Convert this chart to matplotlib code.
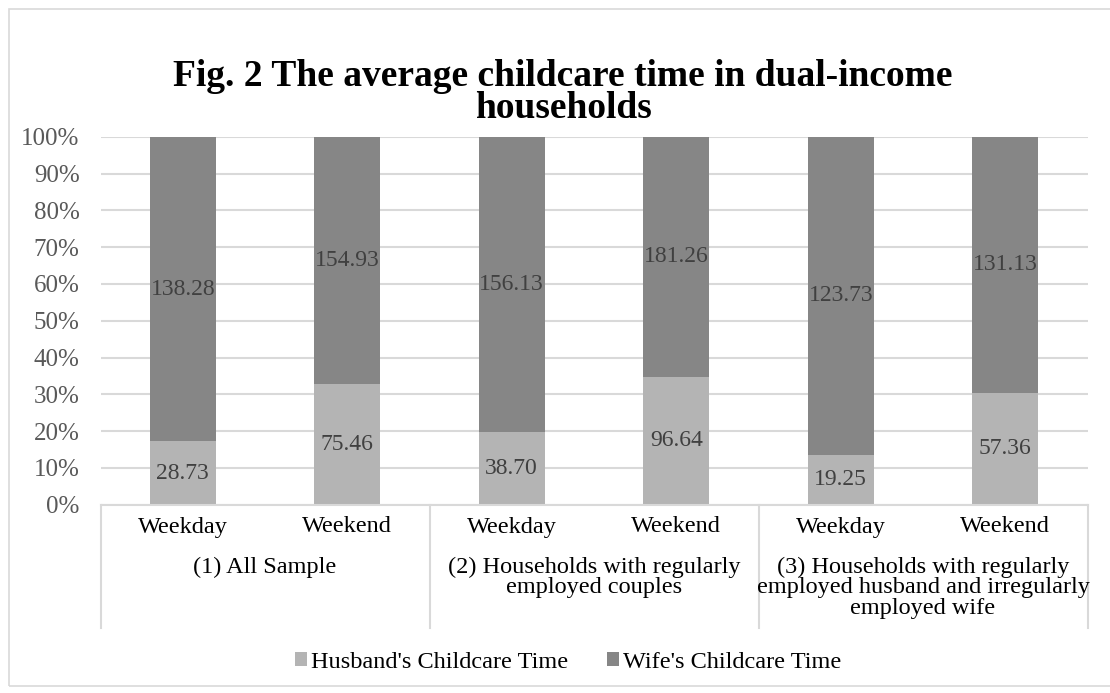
import matplotlib.pyplot as plt
import numpy as np

# Childcare minutes per day
groups = ["(1) All Sample",
          "(2) Households with regularly\nemployed couples",
          "(3) Households with regularly\nemployed husband and irregularly\nemployed wife"]
days = ["Weekday", "Weekend", "Weekday", "Weekend", "Weekday", "Weekend"]
husband = np.array([28.73, 75.46, 38.70, 96.64, 19.25, 57.36])
wife = np.array([138.28, 154.93, 156.13, 181.26, 123.73, 131.13])

husband_col = "#b4b4b4"
wife_col = "#868686"
grid_col = "#d9d9d9"

plt.rcParams["font.family"] = ["Liberation Serif", "DejaVu Serif"]

W, H = 1110, 693
fig = plt.figure(figsize=(W / 100, H / 100), dpi=100)

# outer chart border (right side runs off the image)
fig.patches.append(plt.Rectangle((8.5 / W, 1 - 685.5 / H), (1120 - 8.5) / W, (685.5 - 9) / H,
                                 transform=fig.transFigure, fill=False,
                                 edgecolor=grid_col, linewidth=1.2))

left, right, top, bottom = 100.5, 1087.5, 136.7, 504.7
ax = fig.add_axes([left / W, 1 - bottom / H, (right - left) / W, (bottom - top) / H])

total = husband + wife
h_share = husband / total * 100
w_share = wife / total * 100
x = np.arange(len(days))

ax.bar(x, h_share, width=0.4, color=husband_col, label="Husband's Childcare Time", zorder=2)
ax.bar(x, w_share, width=0.4, bottom=h_share, color=wife_col, label="Wife's Childcare Time", zorder=2)

for i in range(len(x)):
    ax.text(x[i], h_share[i] / 2, "%.2f" % husband[i], ha="center", va="center",
            fontsize=17, color="#404040", zorder=3)
    ax.text(x[i], h_share[i] + w_share[i] / 2, "%.2f" % wife[i], ha="center", va="center",
            fontsize=17, color="#404040", zorder=3)

ax.set_xlim(-0.5, len(x) - 0.5)
ax.set_ylim(0, 100)
ax.set_yticks(np.arange(0, 101, 10))
ax.set_yticklabels(["%d%%" % v for v in range(0, 101, 10)], fontsize=18, color="#595959")
ax.tick_params(axis="y", length=0, pad=15)
ax.set_xticks([])
ax.yaxis.grid(True, color=grid_col, linewidth=1.5, zorder=0)
for s in ["top", "right", "left"]:
    ax.spines[s].set_visible(False)
ax.spines["bottom"].set_color(grid_col)
ax.spines["bottom"].set_linewidth(1.5)

# two-level category axis drawn below the plot
px = (bottom - top) / 100.0  # pixels per percent
line_end = -(628 - bottom) / px
for b in [-0.5, 1.5, 3.5, 5.5]:
    ax.plot([b, b], [0, line_end], color=grid_col, linewidth=1.5, clip_on=False)
for i in range(len(days)):
    ax.text(x[i], -(527 - bottom) / px, days[i], ha="center", va="center",
            fontsize=17.5, color="black")
for g in range(len(groups)):
    ax.text(2 * g + 0.5, -(557 - bottom) / px, groups[g], ha="center", va="top",
            fontsize=17.5, color="black", linespacing=0.95)

fig.text(563 / W, 1 - 76 / H, "Fig. 2 The average childcare time in dual-income",
         ha="center", va="center", fontsize=27, fontweight="bold")
fig.text(563 / W, 1 - 109 / H, "households",
         ha="center", va="center", fontsize=27, fontweight="bold")

fig.legend(loc="center", bbox_to_anchor=(568 / W, 1 - 662 / H), ncol=2, frameon=False,
           fontsize=17.5, handlelength=0.5, handleheight=0.5, handletextpad=0.15,
           columnspacing=1.6)

fig.savefig("out.png", dpi=100)
